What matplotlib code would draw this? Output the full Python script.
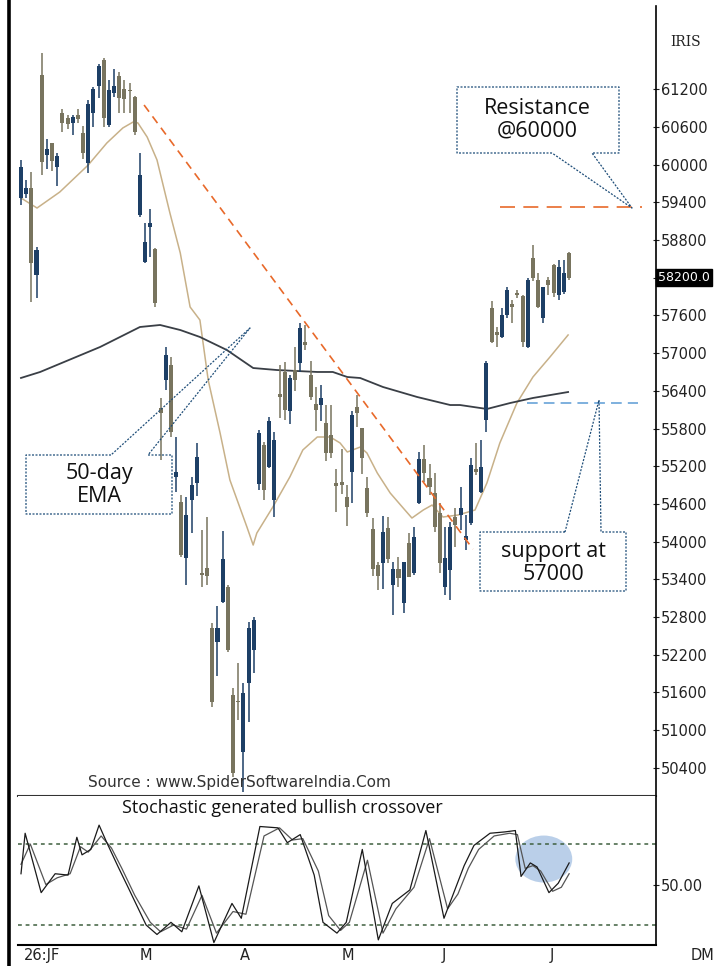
import matplotlib
matplotlib.use('Agg')
import matplotlib.pyplot as plt
from matplotlib.lines import Line2D
from matplotlib.patches import Ellipse
import numpy as np

# IRIS daily candles
opens = [59470,59530,59630,58240,61430,60150,60350,59960,60820,60740,60660,60790,60510,60030,60820,61250,61670,60630,61140,61410,
         61200,61190,61080,59200,58450,59010,58660,56130,56570,56810,55030,54630,53740,54660,54930,53500,53580,52620,52400,53040,
         53280,51560,51470,50650,51750,52270,54920,55540,55190,54660,56350,56700,56080,56730,56840,57180,56650,56190,56170,55890,
         55700,54930,54950,54710,55110,56140,55810,54850,54200,53630,53660,54220,53310,53560,53020,53980,53500,54610,55320,55010,
         54770,54460,53280,53550,54390,54420,54030,54300,55160,54790,55940,57720,57340,57260,57610,57780,57960,57910,57100,58520,
         58160,57560,58160,58400,57930,57970,58590]
highs = [60080,59760,59880,58690,61780,60410,60350,60190,60890,60790,60790,60890,60620,61030,61240,61600,61700,61350,61520,61480,
         61350,61300,61090,60190,59070,59300,58670,56290,57100,56940,55660,54740,54710,55030,55570,54180,54390,52700,52970,54170,
         53310,51670,52070,51750,52720,52800,55780,55590,55980,55750,56810,56860,56650,57100,57480,57450,56880,56460,56490,56170,
         56170,55160,55470,54900,56080,56330,55810,55030,54380,53680,54410,54390,53680,53750,53680,54140,54230,55430,55540,55240,
         55090,54610,54230,54310,54540,54870,54420,55330,55570,55620,56880,57830,57420,57720,58050,57850,58010,57930,58200,58720,
         58280,58050,58210,58420,58480,58480,58610]
lows = [59360,59470,57810,57880,59840,59930,59900,59660,60520,60570,60470,60660,60090,59870,60600,61060,60600,60600,61080,60820,
        60820,60820,60470,59170,58430,58530,57730,55300,56410,55660,54790,53750,53310,54140,54730,53280,53310,51370,51860,53020,
        52240,50250,51160,50010,51130,51910,54820,54660,55170,54390,55970,55940,55870,56400,56700,57050,56250,55760,55920,55280,
        55330,54470,54760,54250,54610,55820,55080,54390,53450,53230,53250,53660,52830,53280,52860,53440,53470,54600,54950,54740,
        54150,53500,53150,53070,53910,54180,53870,54260,55060,54770,55750,57160,57100,57240,57560,57480,57880,57100,57080,58150,
        57720,57480,57930,57890,57850,57940,58160]
closes = [59960,59630,58440,58640,60040,60250,60060,60140,60660,60650,60760,60730,60190,60970,61210,61570,60740,61190,61250,61060,
          61050,61170,60520,59840,58770,59070,57800,56050,56970,55750,55110,53790,54420,54900,55350,53470,53450,51450,52620,53720,
          52270,50320,51450,51590,52620,52750,55730,54820,55920,55620,56300,56100,56600,56570,57400,57130,56300,56090,56290,55410,
          55410,54890,54900,54550,56020,56050,55330,54460,53560,53450,54150,53720,53560,53420,53680,53440,54070,55320,55090,54870,
          54230,53660,53740,54230,54260,54540,54090,55220,55110,55190,56840,57180,57290,57610,58010,57740,57930,57180,58160,58200,
          57740,58050,58090,57960,58370,58280,58200]

# moving averages (vertices along the curves)
ema20_idx = [0, 3.1, 7.5, 13.0, 16.6, 19.7, 21.7, 22.6, 24.4, 26.3, 28.8, 30.8, 32.7, 34.6, 36.2, 38.5, 40.4, 43.7, 44.9, 45.6,
             48.7, 52.0, 54.5, 57.3, 59.8, 61.7, 63.1, 65.6, 66.9, 68.9, 71.4, 73.9, 75.6, 77.8, 79.5, 81.6, 84.5, 87.8, 90.1,
             92.6, 95.9, 99.0, 102.3, 105.8]
ema20_val = [59470, 59310, 59565, 59995, 60345, 60585, 60680, 60665, 60440, 60075, 59230, 58595, 57735, 57527, 56572, 55729,
             54980, 54230, 53945, 54135, 54550, 55030, 55458, 55665, 55665, 55570, 55426, 55505, 55410, 55092, 54773, 54535,
             54375, 54503, 54582, 54391, 54423, 54503, 54933, 55569, 56206, 56620, 56939, 57289]
ema50_idx = [0, 3.7, 15.3, 23.0, 26.9, 30.8, 34.6, 39.8, 44.9, 49.5, 57.3, 60.3, 63.1, 65.6, 70.0, 76.6, 83.0, 84.9, 90.1,
             94.6, 99.0, 105.8]
ema50_val = [56605, 56700, 57098, 57416, 57448, 57368, 57257, 57050, 56763, 56731, 56700, 56700, 56620, 56604, 56461, 56302,
             56174, 56174, 56111, 56206, 56286, 56381]

# stochastic %K and %D
k_idx = [0, 0.8, 3.9, 6.6, 9.1, 10.8, 11.8, 13.5, 15.1, 16.6, 18.8, 20.7, 24.2, 26.3, 29.0, 31.1, 34.4, 37.3, 40.8, 42.6,
         46.2, 49.7, 51.5, 54.0, 56.7, 58.4, 61.1, 62.9, 66.0, 69.1, 71.8, 75.2, 78.3, 81.8, 83.9, 85.7, 87.6, 90.7, 93.6,
         95.6, 96.7, 98.5, 99.8, 102.1, 103.9, 106.0]
k_val = [58, 88, 44, 58, 57, 85, 72, 76, 94, 81, 63, 48, 20, 13, 22, 15, 49, 7, 36, 25, 93, 92, 81, 87, 57, 22, 14, 22, 76, 9,
         36, 46, 90, 25, 46, 64, 79, 88, 89, 90, 56, 66, 63, 44, 51, 66]
d_idx = [0, 1.8, 4.8, 7, 9.5, 11.5, 13, 15.5, 17.5, 19.5, 22, 25, 27, 29.5, 32, 35, 37.8, 41, 43.5, 47, 50, 52.5, 54.5, 57.5,
         59.5, 61.8, 63.5, 67, 70, 72.5, 76, 79, 82.5, 84.5, 86.5, 88.5, 91.5, 94.5, 96, 97.5, 99, 100.5, 102.8, 104.5, 106]
d_val = [65, 80, 50, 55, 58, 78, 74, 86, 77, 62, 42, 22, 15, 20, 17, 42, 14, 30, 28, 86, 92, 83, 84, 60, 27, 16, 22, 68, 14, 32,
         48, 84, 32, 43, 62, 76, 86, 88, 87, 62, 64, 60, 45, 48, 58]

price_ticks = list(range(50400, 61201, 600))
month_labels = ['26:JF', 'M', 'A', 'M', 'J', 'J']
month_pos = [4.1, 24.2, 43.3, 63.2, 81.8, 102.7]

resistance = 59330
support = 56200
trend_x = [23.8, 87.4]
trend_y = [60950, 53880]

W, H = 714, 966
BLUE = '#1d3f66'
OLIVE = '#78745e'
ORANGE = '#e8692a'
NOTE = '#1f4e79'

fig = plt.figure(figsize=(W / 100, H / 100), dpi=100)
fig.patch.set_facecolor('white')

def fx(x):
    return x / W

def fy(y):
    return 1 - y / H

ax = fig.add_axes([fx(18), fy(796), (656 - 18) / W, (796 - 6) / H])
ax2 = fig.add_axes([fx(18), fy(945), (656 - 18) / W, (945 - 796) / H])

# candles
n = len(opens)
xs = np.arange(n)
o = np.array(opens)
c = np.array(closes)
cols = [BLUE if c[i] >= o[i] else OLIVE for i in range(n)]
ax.vlines(xs, lows, highs, colors=cols, lw=1.1, zorder=3)
body_lo = np.minimum(o, c)
body_h = np.maximum(np.abs(c - o), 18)
ax.bar(xs, body_h, bottom=body_lo, width=0.78, color=cols, zorder=4, linewidth=0)

ax.plot(ema20_idx, ema20_val, color='#c8b189', lw=1.1, zorder=2)
ax.plot(ema50_idx, ema50_val, color='#3a3f46', lw=1.3, zorder=2)

ax.plot(trend_x, trend_y, color=ORANGE, lw=1.2, dashes=(5, 3.5), zorder=5)
ax.plot([92.6, 120.1], [resistance, resistance], color=ORANGE, lw=1.2, dashes=(9, 5), zorder=5)
ax.plot([97.9, 119.3], [support, support], color='#5b9bd5', lw=1.1, dashes=(7, 4), zorder=5)

ax.set_xlim(-0.58, 122.8)
ax.set_ylim(49950, 62526)
ax.set_xticks([])
ax.yaxis.tick_right()
ax.set_yticks(price_ticks)
ax.set_yticklabels(['' if v == 58200 else str(v) for v in price_ticks])
ax.tick_params(axis='y', direction='inout', length=5, width=0.8, pad=1, labelsize=10.5, colors='#222222')
for s in ['left', 'top']:
    ax.spines[s].set_visible(False)
ax.spines['right'].set_linewidth(1.2)
ax.spines['bottom'].set_color('#333333')
ax.spines['bottom'].set_linewidth(1.5)

# last price tag
ax.text(1.003, closes[-1], '%.1f' % closes[-1], transform=ax.get_yaxis_transform(), color='white', fontsize=9,
        va='center', ha='left', clip_on=False, bbox=dict(facecolor='black', edgecolor='black', pad=1.5), zorder=6)

# stochastic panel
ax2.add_patch(Ellipse((101.1, 68.9), 11.0, 34.8, facecolor='#a9c4e4', edgecolor='none', alpha=0.8, zorder=1))
ax2.axhline(80, color='#3f5f3f', lw=1.1, dashes=(2.5, 2.5), zorder=2)
ax2.axhline(20, color='#3f5f3f', lw=1.1, dashes=(2.5, 2.5), zorder=2)
ax2.plot(d_idx, d_val, color='#555555', lw=0.9, zorder=3)
ax2.plot(k_idx, k_val, color='#1a1a1a', lw=0.9, zorder=4)
ax2.set_xlim(-0.58, 122.8)
ax2.set_ylim(5.2, 115.6)
ax2.set_xticks([])
ax2.yaxis.tick_right()
ax2.set_yticks([50])
ax2.set_yticklabels(['50.00'])
ax2.tick_params(axis='y', direction='inout', length=5, width=0.8, pad=1, labelsize=10.5, colors='#222222')
for s in ['left', 'top']:
    ax2.spines[s].set_visible(False)
ax2.spines['right'].set_linewidth(1.2)
ax2.spines['bottom'].set_linewidth(1.5)

for lab, p in zip(month_labels, month_pos):
    ax2.text(p, -0.07, lab, transform=ax2.get_xaxis_transform(), ha='center', va='center',
             fontsize=10.5, color='#222222', clip_on=False)
fig.text(fx(691), fy(956), 'DM', ha='left', va='center', fontsize=10.5, color='#222222')

# frame line on the left
fig.add_artist(Line2D([fx(9), fx(9)], [0, 1], color='black', lw=2.6))

fig.text(fx(686), fy(42), 'IRIS', family='DejaVu Serif', fontsize=10, ha='center', va='center', color='#222222')
fig.text(fx(88), fy(783), 'Source : www.SpiderSoftwareIndia.Com', fontsize=11, ha='left', va='center', color='#333333')
fig.text(fx(122), fy(808), 'Stochastic generated bullish crossover', family='Open Sans', fontsize=13,
         ha='left', va='center', color='#111111')

# callout boxes
def callout(pts, tx, ty, label):
    xx = [fx(p[0]) for p in pts]
    yy = [fy(p[1]) for p in pts]
    fig.add_artist(Line2D(xx, yy, color=NOTE, lw=0.9, dashes=(1.6, 1.2)))
    fig.text(fx(tx), fy(ty), label, family='Open Sans', fontsize=15.5, ha='center', va='center',
             color='#111111', linespacing=1.12)

callout([(552, 153), (457, 153), (457, 87), (619, 87), (619, 153), (592, 153), (632, 208), (552, 153)],
        537, 120, 'Resistance\n@60000')
callout([(111, 455), (26, 455), (26, 514), (172, 514), (172, 455), (148, 455), (250, 328), (111, 455)],
        99, 485, '50-day\nEMA')
callout([(565, 532), (480, 532), (480, 591), (626, 591), (626, 532), (601, 532), (599, 400), (565, 532)],
        553, 563, 'support at\n57000')

fig.savefig('out.png', dpi=100)
